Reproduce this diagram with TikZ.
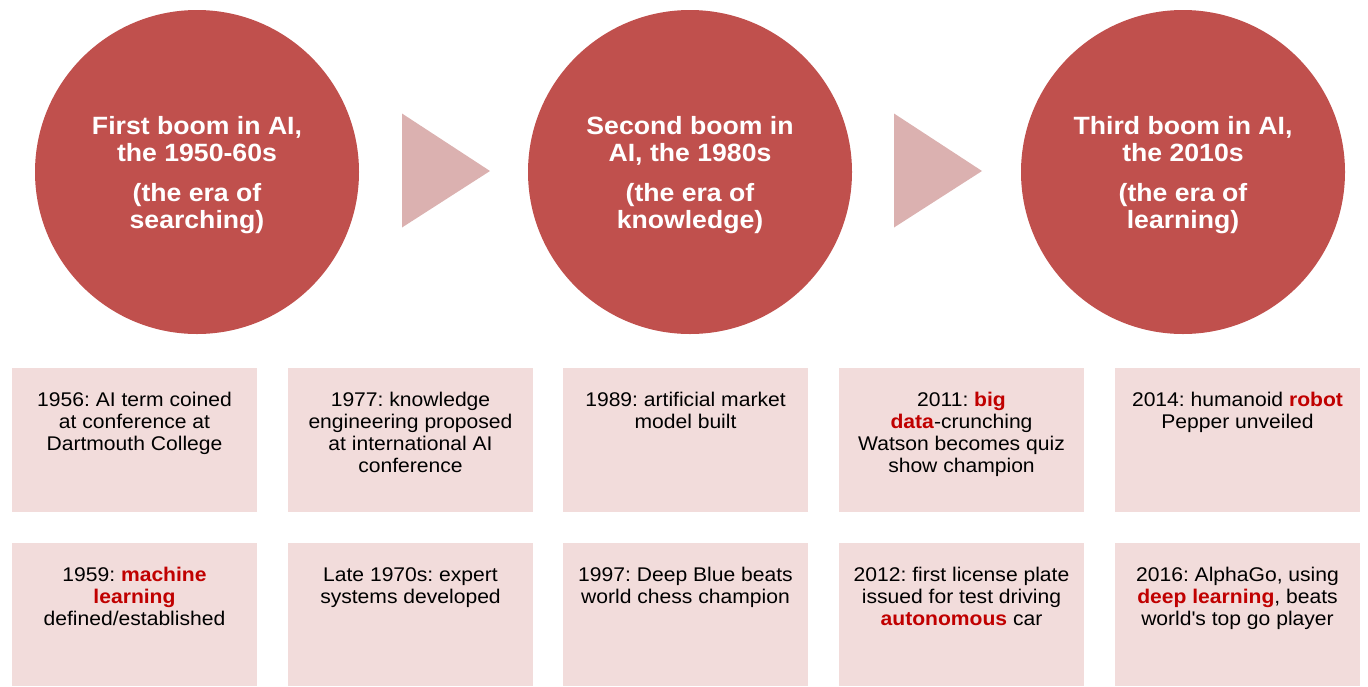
\documentclass[tikz,border=0pt]{standalone}
\usepackage{fontspec}
\setmainfont{Liberation Sans}[FakeStretch=1.065]
\definecolor{circ}{HTML}{C0504D}
\definecolor{chevfill}{HTML}{DBB1B0}
\definecolor{cardfill}{HTML}{F2DCDB}
\definecolor{hl}{HTML}{C00000}
\newcommand{\hlt}[1]{\textcolor{hl}{\textbf{#1}}}
\frenchspacing
\begin{document}
\begin{tikzpicture}[x=1pt,y=-1pt,
  era/.style={circle, fill=circ, minimum size=324pt, inner sep=0pt},
  eratext/.style={text=white, font=\fontsize{25}{27}\selectfont\bfseries\frenchspacing, align=center, anchor=base, inner sep=0pt},
  chev/.style={fill=chevfill},
  card/.style={fill=cardfill, minimum width=245pt, inner sep=0pt, anchor=north west},
  cardtext/.style={font=\fontsize{19.8}{22}\selectfont\frenchspacing, align=center, anchor=base, inner sep=0pt}]
\useasboundingbox (0,0) rectangle (1368,686);
% eras
\node[era] (e1) at (197,172) {};
\node[era] (e2) at (690,172) {};
\node[era] (e3) at (1183,172) {};
\node[eratext] (e1t) at (197,228) {First boom in AI,\\the 1950-60s\\[13pt](the era of\\searching)};
\node[eratext] (e2t) at (690,228) {Second boom in\\AI, the 1980s\\[13pt](the era of\\knowledge)};
\node[eratext] (e3t) at (1183,228) {Third boom in AI,\\the 2010s\\[13pt](the era of\\learning)};
% chevrons
\fill[chev] (402,113.5) -- (490,171) -- (402,227.5) -- cycle;
\fill[chev] (894,113.5) -- (982,171) -- (894,227.5) -- cycle;
% cards row 1
\node[card, minimum height=144pt] (c11) at (12,368) {};
\node[card, minimum height=144pt] (c12) at (288,368) {};
\node[card, minimum height=144pt] (c13) at (563,368) {};
\node[card, minimum height=144pt] (c14) at (839,368) {};
\node[card, minimum height=144pt] (c15) at (1115,368) {};
% cards row 2
\node[card, minimum height=143pt] (c21) at (12,543) {};
\node[card, minimum height=143pt] (c22) at (288,543) {};
\node[card, minimum height=143pt] (c23) at (563,543) {};
\node[card, minimum height=143pt] (c24) at (839,543) {};
\node[card, minimum height=143pt] (c25) at (1115,543) {};
% card texts row 1 (anchored at last baseline)
\node[cardtext] (t11) at (134.5,450.5) {1956: AI term coined\\at conference at\\Dartmouth College};
\node[cardtext] (t12) at (410.5,472.5) {1977: knowledge\\engineering proposed\\at international AI\\conference};
\node[cardtext] (t13) at (685.5,428.5) {1989: artificial market\\model built};
\node[cardtext] (t14) at (961.5,472.5) {2011: \hlt{big}\\\hlt{data}-crunching\\Watson becomes quiz\\show champion};
\node[cardtext] (t15) at (1237.5,428.5) {2014: humanoid \hlt{robot}\\Pepper unveiled};
% card texts row 2
\node[cardtext] (t21) at (134.5,625.5) {1959: \hlt{machine}\\\hlt{learning}\\defined/established};
\node[cardtext] (t22) at (410.5,603.5) {Late 1970s: expert\\systems developed};
\node[cardtext] (t23) at (685.5,603.5) {1997: Deep Blue beats\\world chess champion};
\node[cardtext] (t24) at (961.5,625.5) {2012: first license plate\\issued for test driving\\\hlt{autonomous} car};
\node[cardtext] (t25) at (1237.5,625.5) {2016: AlphaGo, using\\\hlt{deep learning}, beats\\world\textquotesingle s top go player};
\end{tikzpicture}
\end{document}
